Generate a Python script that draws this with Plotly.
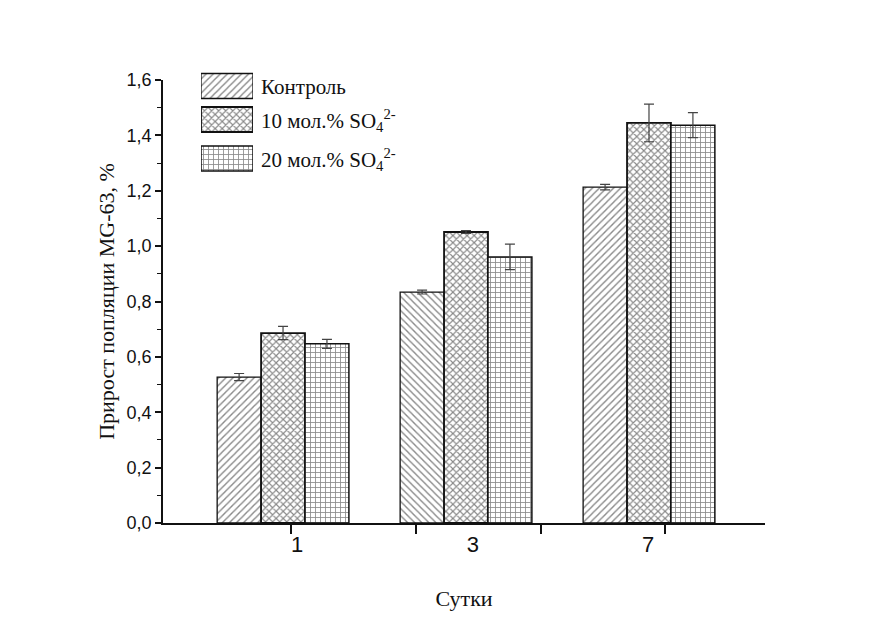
import plotly.graph_objects as go

# Population growth of MG-63 cells by day
days = ["1", "3", "7"]
series_names = ["Контроль", "10 мол.% SO<sub>4</sub><sup>2-</sup>", "20 мол.% SO<sub>4</sub><sup>2-</sup>"]
control = [0.527, 0.834, 1.213]
control_err = [0.013, 0.007, 0.010]
so4_10 = [0.686, 1.051, 1.445]
so4_10_err = [0.024, 0.005, 0.068]
so4_20 = [0.647, 0.961, 1.437]
so4_20_err = [0.016, 0.046, 0.045]
y_ticks = [0.0, 0.2, 0.4, 0.6, 0.8, 1.0, 1.2, 1.4, 1.6]

values = [control, so4_10, so4_20]
errors = [control_err, so4_10_err, so4_20_err]
patterns = [["/", "\\", "/"], "x", "+"]
pattern_sizes = [5, 5, 5]
pattern_solidity = [0.28, 0.4, 0.3]
line_widths = [1.3, 1.8, 1.5]

group_pos = list(range(len(days)))
X_RANGE = [-0.656, 2.634]
SERIF = "Liberation Serif"
SANS = "Liberation Sans"

# plot area: 463 px tall above the bottom margin
PLOT_H = 463
BOTTOM = 523


def paper_y(py):
    return (BOTTOM - py) / PLOT_H


fig = go.Figure()

for vals, errs, pat, psize, sol, lw in zip(values, errors, patterns, pattern_sizes,
                                          pattern_solidity, line_widths):
    fig.add_trace(go.Bar(
        x=group_pos, y=vals,
        marker=dict(color="white",
                    line=dict(color="#111", width=lw),
                    pattern=dict(shape=pat, size=psize, solidity=sol,
                                 fgcolor="#111", bgcolor="white")),
        error_y=dict(type="data", array=errs, visible=True,
                     color="#444", thickness=1.2, width=5),
        showlegend=False,
    ))

# hand-built legend with large patterned swatches
legend_rows = [86, 119.5, 158.5]
for i, (pat, psize, sol, lw) in enumerate(zip(patterns, pattern_sizes,
                                              pattern_solidity, line_widths)):
    shape = pat[0] if isinstance(pat, list) else pat
    fig.add_trace(go.Bar(
        x=[1], y=[legend_rows[i]], orientation="h", width=25,
        marker=dict(color="white",
                    line=dict(color="#111", width=lw),
                    pattern=dict(shape=shape, size=psize, solidity=sol,
                                 fgcolor="#111", bgcolor="white")),
        xaxis="x3", yaxis="y3", showlegend=False, hoverinfo="skip",
    ))
    fig.add_annotation(
        x=(259 - 163) / 602, y=paper_y(legend_rows[i] + 1), xref="paper", yref="paper",
        text=series_names[i], showarrow=False, xanchor="left", yanchor="middle",
        font=dict(family=SERIF, size=21, color="#111"),
    )

fig.update_layout(
    width=872, height=619,
    margin=dict(l=163, r=107, t=60, b=96),
    paper_bgcolor="white", plot_bgcolor="white",
    barmode="group", bargap=0.28, bargroupgap=0,
    separators=", ",
    xaxis=dict(
        range=X_RANGE, showgrid=False, zeroline=False,
        showline=True, linecolor="#111", linewidth=1.5,
        tickmode="array", tickvals=[0.044, 0.727, 1.41, 2.087],
        showticklabels=False, ticks="outside", ticklen=9,
        tickwidth=1.5, tickcolor="#111",
    ),
    xaxis2=dict(
        range=X_RANGE, overlaying="x", showgrid=False, zeroline=False,
        showline=False, ticks="", side="bottom",
        tickmode="array", tickvals=[0.077, 1.038, 1.995], ticktext=days,
        tickfont=dict(family=SANS, size=22, color="#111"),
        ticklabelstandoff=6,
        title=dict(text="Сутки", font=dict(family=SERIF, size=22, color="#111"),
                   standoff=34),
    ),
    yaxis=dict(
        domain=[0, 443 / PLOT_H], range=[0, 1.6], showgrid=False, zeroline=False,
        showline=True, linecolor="#111", linewidth=1.5,
        tickmode="array", tickvals=y_ticks, tickformat=".1f",
        ticks="outside", ticklen=6, tickwidth=1.5, tickcolor="#111",
        tickfont=dict(family=SANS, size=18, color="#111"),
        minor=dict(dtick=0.2, tick0=0.1, ticks="outside", ticklen=4,
                   tickwidth=1.2, tickcolor="#111"),
        title=dict(text="Прирост попляции MG-63, %",
                   font=dict(family=SERIF, size=22, color="#111"), standoff=6),
    ),
    xaxis3=dict(domain=[(201 - 163) / 602, (253 - 163) / 602], range=[0, 1],
                visible=False, fixedrange=True),
    yaxis3=dict(domain=[paper_y(172), paper_y(72)], range=[172, 72],
                visible=False, fixedrange=True),
)

# the day labels live on an overlay axis; give it one invisible point
fig.add_trace(go.Scatter(x=[0], y=[0], xaxis="x2", mode="markers",
                         marker=dict(opacity=0), showlegend=False, hoverinfo="skip"))

fig.write_html("out.html")
